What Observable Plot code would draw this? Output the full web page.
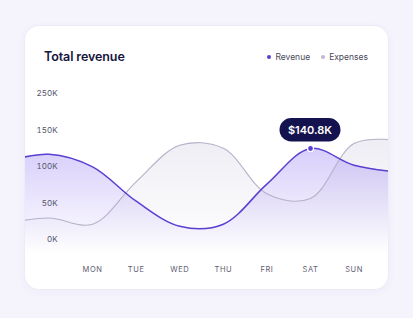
<!DOCTYPE html>
<html><head><meta charset="utf-8">
<script src="https://cdn.jsdelivr.net/npm/d3@7"></script>
<script src="https://cdn.jsdelivr.net/npm/@observablehq/plot@0.6"></script>
<style>
html,body{margin:0;padding:0;}
body{width:413px;height:318px;background:#f5f4fd;position:relative;overflow:hidden;font-family:Inter,"Noto Sans",sans-serif;}
#card{position:absolute;left:25px;top:26px;width:363px;height:263px;background:#fff;border-radius:14px;box-shadow:0 0 0 1px #edecf6,0 2px 8px rgba(80,70,160,0.06);overflow:hidden;}
#title{position:absolute;left:19px;top:24.5px;font-size:12.5px;line-height:1;font-weight:600;color:#15153d;letter-spacing:-0.1px;}
#legend{position:absolute;right:20px;top:26.5px;font-size:8.5px;line-height:1;color:#4a4a5c;display:flex;align-items:center;}
.sw{width:4px;height:4px;border-radius:50%;display:inline-block;margin-right:4px;}
#chart{position:absolute;left:0;top:54px;}
</style></head>
<body>
<div id="card">
  <div id="title">Total revenue</div>
  <div id="legend"><span class="sw" style="background:#5b3fd1"></span><span>Revenue</span><span class="sw" style="background:#bdb8cf;margin-left:11px"></span><span>Expenses</span></div>
  <div id="chart"></div>
</div>
<script>
// Day labels (x = 0..6) and y tick labels
const days = ["MON","TUE","WED","THU","FRI","SAT","SUN"];
const yTicks = [0, 50, 100, 150, 200];
const yLabels = ["0K", "50K", "100K", "150K", "250K"];

// Points in day units (the curves run past MON and SUN, off the card edges)
const pointX = [-2, -1, 0, 1, 2, 3, 4, 5, 6, 7];
const revenueV = [107, 116.8, 99.5, 52.5, 18.2, 21, 75.8, 124.7, 101.8, 92.5];
const expensesV = [22, 29.5, 21, 79, 129, 125, 62.7, 56.2, 131.5, 136];

// Highlighted point
const highlightDay = 5;
const highlightValue = 124.7;
const highlightLabel = "$140.8K";

const baseV = -20.5;
const revenue = pointX.map((d, i) => ({d, v: revenueV[i], base: baseV}));
const expenses = pointX.map((d, i) => ({d, v: expensesV[i], base: baseV}));
const curve = "catmull-rom";

const chart = Plot.plot({
  width: 363, height: 205,
  marginLeft: 0, marginRight: 0, marginTop: 13, marginBottom: 31,
  x: {type: "linear", domain: [-1.54, 6.79], label: null},
  y: {domain: [baseV, 200], label: null},
  style: {fontFamily: "Inter, sans-serif", background: "transparent"},
  marks: [
    Plot.areaY(expenses, {x: "d", y1: "base", y2: "v", curve, fill: "url(#gExp)", clip: true}),
    Plot.areaY(revenue, {x: "d", y1: "base", y2: "v", curve, fill: "url(#gRev)", clip: true}),
    Plot.lineY(expenses, {x: "d", y: "v", curve, stroke: "#b7b2ca", strokeWidth: 1.1, clip: true}),
    Plot.lineY(revenue, {x: "d", y: "v", curve, stroke: "#5b3fd1", strokeWidth: 1.5, clip: true}),
    Plot.axisY({ticks: yTicks, tickFormat: d => yLabels[yTicks.indexOf(d)], tickSize: 0, dx: 41, fontSize: 8, fill: "#55556a"}),
    Plot.axisX({ticks: d3.range(days.length), tickFormat: d => days[d], tickSize: 0, tickPadding: 12, fontSize: 7.5, fill: "#5d5d70"}),
    Plot.dot([{d: highlightDay, v: highlightValue}], {x: "d", y: "v", r: 3, fill: "#5b3fd1", stroke: "#fff", strokeWidth: 1.2})
  ]
});

const svg = d3.select(chart);
const yS = chart.scale("y"), xS = chart.scale("x");
const defs = svg.insert("defs", ":first-child");
function grad(id, color, top, topOpacity) {
  const g = defs.append("linearGradient").attr("id", id).attr("gradientUnits", "userSpaceOnUse")
    .attr("x1", 0).attr("x2", 0).attr("y1", yS.apply(top)).attr("y2", yS.apply(baseV));
  g.append("stop").attr("offset", 0).attr("stop-color", color).attr("stop-opacity", topOpacity);
  g.append("stop").attr("offset", 1).attr("stop-color", color).attr("stop-opacity", 0);
}
grad("gRev", "#7a5cf0", 125, 0.3);
grad("gExp", "#968fb9", 140, 0.16);

svg.selectAll('g[aria-label="x-axis tick label"] text').attr("letter-spacing", "0.6px");

// tooltip pill positioned through scales
const px = xS.apply(highlightDay), py = yS.apply(highlightValue);
const tip = svg.append("g");
tip.append("rect").attr("x", px - 30.5).attr("y", py - 30).attr("width", 61).attr("height", 23.5)
  .attr("rx", 11.75).attr("fill", "#15134f");
tip.append("text").attr("x", px).attr("y", py - 18.2).attr("text-anchor", "middle").attr("dominant-baseline", "central")
  .attr("fill", "#fff").attr("font-size", 11).attr("font-weight", 600).attr("font-family", "Inter, sans-serif").text(highlightLabel);

document.getElementById("chart").appendChild(chart);
</script>
</body></html>
